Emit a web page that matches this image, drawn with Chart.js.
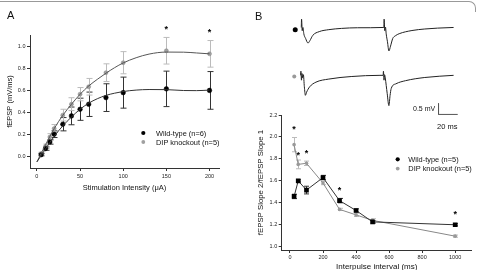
<!DOCTYPE html>
<html><head><meta charset="utf-8">
<script src="https://cdn.jsdelivr.net/npm/chart.js@4.4.0/dist/chart.umd.min.js"></script>
<style>
html,body{margin:0;padding:0;background:#fff;overflow:hidden;width:479px;height:270px;}
body{position:relative;font-family:'Liberation Sans',Arial,sans-serif;}
canvas{position:absolute;}
.lbl{position:absolute;color:#111;white-space:nowrap;line-height:1;}
#frame{position:absolute;left:-2px;top:1px;width:477px;height:10px;border-top:1px solid #999;border-right:1px solid #999;border-top-right-radius:7px;}
</style></head><body>
<div id="frame"></div>
<canvas id="cA" width="240" height="200" style="left:0;top:0;width:240px;height:200px"></canvas>
<canvas id="cT" width="199" height="130" style="left:280px;top:0;width:199px;height:130px"></canvas>
<canvas id="cB" width="239" height="175" style="left:240px;top:100px;width:239px;height:175px"></canvas>
<div class="lbl" style="left:7px;top:10px;font-size:11px;">A</div>
<div class="lbl" style="left:255px;top:10.5px;font-size:11px;">B</div>
<div class="lbl" style="left:413px;top:104.8px;font-size:7px;">0.5 mV</div>
<div class="lbl" style="left:437px;top:122.5px;font-size:7.5px;">20 ms</div>
<script>
// ---------- Panel A data ----------
const stimX   = [5, 10, 15, 20, 30, 40, 50, 60, 80, 100, 150, 200];
const wtA     = [0.02, 0.075, 0.135, 0.205, 0.295, 0.37, 0.43, 0.475, 0.535, 0.58, 0.614, 0.60];
const wtAErr  = [0.01, 0.015, 0.02, 0.03, 0.06, 0.08, 0.1, 0.11, 0.125, 0.14, 0.16, 0.17];
const koA     = [0.03, 0.096, 0.18, 0.256, 0.377, 0.476, 0.566, 0.633, 0.76, 0.85, 0.958, 0.93];
const koAErr  = [0.012, 0.02, 0.03, 0.036, 0.053, 0.058, 0.06, 0.075, 0.08, 0.1, 0.12, 0.12];
const fitX    = [0, 10, 20, 30, 40, 50, 60, 70, 80, 90, 100, 115, 130, 150, 170, 185, 200];
const wtFit   = [-0.045, 0.072, 0.185, 0.28, 0.36, 0.43, 0.485, 0.525, 0.555, 0.575, 0.59, 0.603, 0.608, 0.607, 0.599, 0.598, 0.603];
const koFit   = [-0.045, 0.11, 0.255, 0.375, 0.475, 0.565, 0.64, 0.70, 0.755, 0.805, 0.848, 0.895, 0.928, 0.946, 0.945, 0.938, 0.93];
const sigAX   = [150, 200];
const sigAY   = [1.17, 1.145];
const xTicksA = [0, 50, 100, 150, 200];
const yTicksA = [0.0, 0.2, 0.4, 0.6, 0.8, 1.0];

// ---------- Panel B traces ----------
const tr1T = [0, 0.3, 1, 1.7, 2.7, 4.5, 7, 9, 12, 18.7, 28.7, 42, 58.7, 86, 86.3, 87, 87.7, 88.5, 89.8, 91.3, 93, 95.3, 98, 102, 115.3, 128.7, 142, 158.7];
const tr1V = [0, 0.38, -0.15, 0, -0.3, -0.5, -0.71, -0.6, -0.36, -0.19, -0.1, -0.043, -0.014, 0, 0.38, -0.15, 0.02, -0.3, -0.65, -1.07, -0.85, -0.5, -0.38, -0.285, -0.14, -0.07, -0.03, 0];
const tr2T = [-0.7, -0.4, 0.2, 0.8, 1.5, 2.2, 3.2, 4.3, 5.5, 8.7, 15.3, 28.7, 52, 82, 85.3, 85.6, 86.2, 86.8, 87.5, 89.5, 91.3, 92.5, 93.7, 98.7, 108.7, 128.7, 158.7];
const tr2V = [-2.18, -1.99, -2.4, -2.1, -2.3, -2.15, -2.7, -3.09, -2.95, -2.705, -2.49, -2.35, -2.235, -2.18, -2.18, -1.99, -2.4, -2.15, -2.3, -3.0, -3.56, -3.1, -2.78, -2.564, -2.423, -2.278, -2.18];
const barT = [143, 143, 163];
const barV = [-3.46, -3.96, -3.96];
const dotT = [-6.3, -7.3];
const dotV = [-0.1, -2.235];

// ---------- Panel B graph data ----------
const ipi     = [25, 50, 100, 200, 300, 400, 500, 1000];
const wtB     = [1.458, 1.60, 1.516, 1.63, 1.42, 1.33, 1.226, 1.20];
const wtBErr  = [0.02, 0.01, 0.035, 0.02, 0.02, 0.015, 0.01, 0.01];
const koB     = [1.93, 1.75, 1.76, 1.58, 1.34, 1.29, 1.24, 1.096];
const koBErr  = [0.065, 0.04, 0.02, 0.015, 0.01, 0.015, 0.015, 0.01];
const sigBX   = [25, 50, 100, 300, 1000];
const sigBY   = [2.09, 1.856, 1.875, 1.535, 1.317];
const xTicksB = [0, 200, 400, 600, 800, 1000];
const yTicksB = [1.0, 1.2, 1.4, 1.6, 1.8, 2.0, 2.2];

const FAM = "'Liberation Sans', Arial, sans-serif";
Chart.defaults.font.family = FAM;
Chart.defaults.color = '#111';
Chart.defaults.animation = false;
Chart.defaults.events = [];
Chart.defaults.plugins.legend.display = false;
Chart.defaults.plugins.tooltip.enabled = false;

const pts = (xs, ys) => xs.map((x, i) => ({x: x, y: ys[i]}));

const errorBars = {
  id: 'errorBars',
  beforeDatasetsDraw(chart) {
    const ctx = chart.ctx, ys = chart.scales.y;
    chart.data.datasets.forEach((ds, i) => {
      if (!ds.errors) return;
      const meta = chart.getDatasetMeta(i);
      ctx.save();
      ctx.strokeStyle = ds.errorColor; ctx.lineWidth = 1;
      meta.data.forEach((el, j) => {
        const v = ds.data[j].y, e = ds.errors[j];
        const x = Math.round(el.x) + 0.5;
        const y1 = ys.getPixelForValue(v + e), y2 = ys.getPixelForValue(v - e);
        const w = ds.capHalf;
        ctx.beginPath();
        ctx.moveTo(x, y1); ctx.lineTo(x, y2);
        ctx.moveTo(x - w, y1); ctx.lineTo(x + w, y1);
        ctx.moveTo(x - w, y2); ctx.lineTo(x + w, y2);
        ctx.stroke();
      });
      ctx.restore();
    });
  }
};

function makeSig(xs, ys, size) {
  return {
    id: 'sigMarks',
    afterDatasetsDraw(chart) {
      const ctx = chart.ctx, sx = chart.scales.x, sy = chart.scales.y;
      ctx.save();
      ctx.fillStyle = '#000';
      ctx.font = 'bold ' + size + 'px ' + FAM;
      ctx.textAlign = 'center';
      ctx.textBaseline = 'alphabetic';
      xs.forEach((x, i) => {
        ctx.fillText('*', sx.getPixelForValue(x), sy.getPixelForValue(ys[i]) + 0.57 * size);
      });
      ctx.restore();
    }
  };
}

function makeLegend(cfg) {
  return {
    id: 'customLegend',
    afterDraw(chart) {
      const ctx = chart.ctx;
      cfg.items.forEach((it, k) => {
        const ds = chart.data.datasets[it.ds];
        const y = cfg.y + k * cfg.gap;
        ctx.save();
        ctx.fillStyle = it.color;
        ctx.beginPath(); ctx.arc(cfg.markerX, y, it.r, 0, Math.PI * 2); ctx.fill();
        ctx.fillStyle = '#111';
        ctx.font = cfg.size + 'px ' + FAM;
        ctx.textBaseline = 'middle';
        ctx.fillText(ds.label, cfg.textX, y + 0.5);
        ctx.restore();
      });
    }
  };
}

function axis(opts) {
  return {
    type: 'linear', min: opts.min, max: opts.max,
    afterBuildTicks: s => { s.ticks = opts.ticks.map(v => ({value: v})); },
    afterFit: s => { if (opts.w !== undefined) s.width = opts.w; if (opts.h !== undefined) s.height = opts.h; },
    grid: { drawOnChartArea: false, drawTicks: true, tickLength: 3, color: '#333', tickColor: '#333', lineWidth: 1 },
    border: { color: '#333', width: 1 },
    ticks: { font: { size: 5.5 }, color: '#222', padding: opts.tp, maxRotation: 0, autoSkip: false, callback: opts.fmt },
    title: { display: true, text: opts.title, font: { size: opts.ts }, color: '#111', padding: opts.pad }
  };
}

// ---------- Chart A ----------
new Chart(document.getElementById('cA'), {
  type: 'scatter',
  data: { datasets: [
    { label: 'WT fit', data: pts(fitX, wtFit), showLine: true, borderColor: '#333', borderWidth: 1, pointRadius: 0, cubicInterpolationMode: 'monotone' },
    { label: 'KO fit', data: pts(fitX, koFit), showLine: true, borderColor: '#555', borderWidth: 1, pointRadius: 0, cubicInterpolationMode: 'monotone' },
    { label: 'Wild-type (n=6)', data: pts(stimX, wtA), pointRadius: 2.3, backgroundColor: '#000', borderColor: '#000', borderWidth: 0.5, errors: wtAErr, errorColor: '#333', capHalf: 3 },
    { label: 'DIP knockout (n=5)', data: pts(stimX, koA), pointRadius: 2, backgroundColor: '#a0a0a0', borderColor: '#888', borderWidth: 0.5, errors: koAErr, errorColor: '#bbb', capHalf: 3 }
  ]},
  options: {
    responsive: false,
    layout: { padding: { left: 0, right: 21, top: 35, bottom: 0 } },
    scales: {
      x: axis({ min: -8, max: 211, ticks: xTicksA, h: 32, tp: 2, fmt: v => String(v), title: 'Stimulation Intensity (μA)', ts: 7.5, pad: { top: 0, bottom: 7.5 } }),
      y: axis({ min: -0.1, max: 1.1, ticks: yTicksA, w: 30, tp: 1.5, fmt: v => v.toFixed(1), title: 'fEPSP (mV/ms)', ts: 7.5, pad: { top: 5.5, bottom: 0 } })
    }
  },
  plugins: [errorBars, makeSig(sigAX, sigAY, 9), makeLegend({ markerX: 143.3, textX: 156, y: 133, gap: 9, size: 7.4,
    items: [ { ds: 2, color: '#000', r: 2.1 }, { ds: 3, color: '#a0a0a0', r: 1.9 } ] })]
});

// ---------- Traces ----------
new Chart(document.getElementById('cT'), {
  type: 'scatter',
  data: { datasets: [
    { label: 'trace WT', data: pts(tr1T, tr1V), showLine: true, borderColor: '#222', borderWidth: 1, pointRadius: 0, cubicInterpolationMode: 'monotone' },
    { label: 'trace KO', data: pts(tr2T, tr2V), showLine: true, borderColor: '#222', borderWidth: 1, pointRadius: 0, cubicInterpolationMode: 'monotone' },
    { label: 'scale', data: pts(barT, barV), showLine: true, borderColor: '#555', borderWidth: 1, pointRadius: 0 },
    { label: 'dots', data: pts(dotT, dotV), pointRadius: [2.5, 2], backgroundColor: ['#000', '#999'], borderWidth: 0 }
  ]},
  options: {
    responsive: false,
    layout: { padding: 0 },
    scales: {
      x: { type: 'linear', display: false, min: -18, max: 181 },
      y: { type: 'linear', display: false, min: -4.487, max: 1.068 }
    }
  }
});

// ---------- Chart B ----------
new Chart(document.getElementById('cB'), {
  type: 'scatter',
  data: { datasets: [
    { label: 'Wild-type (n=5)', data: pts(ipi, wtB), showLine: true, borderColor: '#333', borderWidth: 1, pointStyle: 'rect', pointRadius: 3.3, pointBackgroundColor: '#000', pointBorderColor: '#000', pointBorderWidth: 0, errors: wtBErr, errorColor: '#333', capHalf: 2.5 },
    { label: 'DIP knockout (n=5)', data: pts(ipi, koB), showLine: true, borderColor: '#888', borderWidth: 1, pointRadius: 1.8, pointBackgroundColor: '#999', pointBorderColor: '#999', pointBorderWidth: 0, errors: koBErr, errorColor: '#bbb', capHalf: 2.5 }
  ]},
  options: {
    responsive: false,
    layout: { padding: { left: 0, right: 7.3, top: 15, bottom: 0 } },
    scales: {
      x: axis({ min: -50, max: 1100, ticks: xTicksB, h: 25, tp: 1.5, fmt: v => String(v), title: 'Interpulse interval (ms)', ts: 8, pad: { top: 0, bottom: 3.5 } }),
      y: axis({ min: 0.97, max: 2.2, ticks: yTicksB, w: 41.7, tp: 1.5, fmt: v => v.toFixed(1), title: 'fEPSP Slope 2/fEPSP Slope 1', ts: 7.8, pad: { top: 16, bottom: 0 } })
    }
  },
  plugins: [errorBars, makeSig(sigBX, sigBY, 9), makeLegend({ markerX: 157.7, textX: 168.3, y: 59.3, gap: 9.3, size: 7.4,
    items: [ { ds: 0, color: '#000', r: 2.1 }, { ds: 1, color: '#a0a0a0', r: 1.9 } ] })]
});
</script>
</body></html>
